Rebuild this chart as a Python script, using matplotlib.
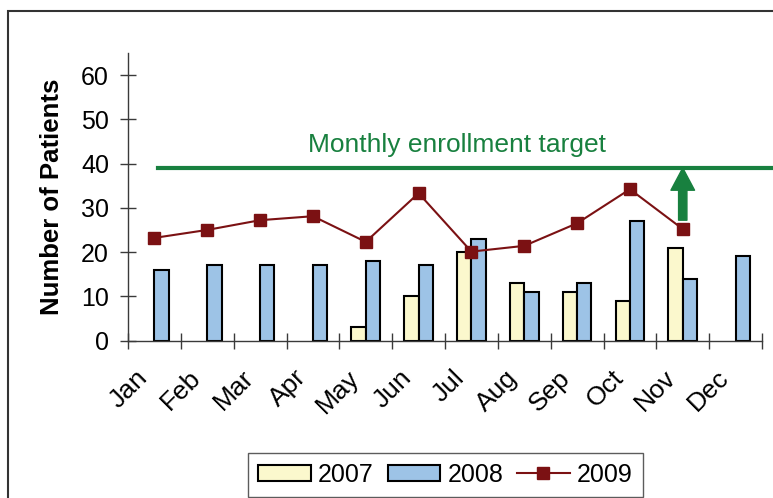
import numpy as np
import matplotlib
matplotlib.use("Agg")
import matplotlib.pyplot as plt
from matplotlib.patches import Rectangle
from matplotlib.transforms import ScaledTranslation

plt.rcParams['font.family'] = ['Liberation Sans', 'DejaVu Sans']

months = ["Jan", "Feb", "Mar", "Apr", "May", "Jun",
          "Jul", "Aug", "Sep", "Oct", "Nov", "Dec"]
y2007 = [np.nan, np.nan, np.nan, np.nan, 3, 10, 20, 13, 11, 9, 21, np.nan]
y2008 = [16, 17, 17, 17, 18, 17, 23, 11, 13, 27, 14, 19]
y2009 = [23.2, 25, 27.2, 28.1, 22.3, 33.3, 20.1, 21.4, 26.5, 34.2, 25.2, np.nan]
target = 39
target_label = "Monthly enrollment target"

col07 = '#FBF8CD'
col08 = '#9DC3E6'
col09 = '#7B1113'
green = '#18803F'
axcol = '#3A3A3A'

fig = plt.figure(figsize=(7.73, 4.98), dpi=100)
ax = fig.add_axes([128 / 773, 1 - 340.5 / 498, 634 / 773, 287.5 / 498])

x = np.arange(len(months)) + 0.5
w = 0.27
b07 = ax.bar(x - w / 2, y2007, width=w, color=col07, edgecolor='black', lw=1.5, label='2007', zorder=2)
b08 = ax.bar(x + w / 2, y2008, width=w, color=col08, edgecolor='black', lw=1.5, label='2008', zorder=2)
l09, = ax.plot(x, y2009, color=col09, lw=1.5, marker='s', ms=8, label='2009', zorder=4)

# target line + label + arrow
ax.plot([0.57, 12.3], [target, target], color=green, lw=3, clip_on=False, zorder=3)
ax.text(3.4, 42.6, target_label, color=green, fontsize=19, va='baseline', ha='left')
ax.annotate('', xy=(x[10], target), xytext=(x[10], y2009[10] + 2),
            arrowprops=dict(arrowstyle='simple,head_length=0.8,head_width=0.85,tail_width=0.3',
                            color=green, mutation_scale=20, shrinkA=0, shrinkB=0), zorder=5)

ax.set_xlim(0, 12)
ax.set_ylim(0, 65)
ax.set_yticks(range(0, 61, 10))
ax.set_xticks(np.arange(0, 13))
ax.set_xticklabels([])
ax.set_xticks(x, minor=True)
ax.set_xticklabels(months, minor=True, rotation=45, ha='right')
ax.tick_params(axis='x', which='minor', length=0, pad=18, labelsize=19)
ax.tick_params(axis='x', which='major', direction='inout', length=11.5, width=1, color=axcol)
ax.tick_params(axis='y', direction='inout', length=11.5, width=1, color=axcol, pad=8, labelsize=18)
shift = ScaledTranslation(-2 / 100, 0, fig.dpi_scale_trans)
for lab in ax.get_xticklabels(minor=True):
    lab.set_transform(lab.get_transform() + shift)

for s in ['top', 'right']:
    ax.spines[s].set_visible(False)
for s in ['left', 'bottom']:
    ax.spines[s].set_color(axcol)
    ax.spines[s].set_linewidth(1)

ax.set_ylabel("Number of Patients", fontsize=18.5, fontweight='bold', labelpad=12)

leg = fig.legend([b07, b08, l09], ['2007', '2008', '2009'],
                 loc='lower center', bbox_to_anchor=(445.5 / 773, 1.5 / 498), ncol=3,
                 fontsize=18, frameon=True, fancybox=False, borderaxespad=0,
                 handlelength=2.1, handleheight=0.6, handletextpad=0.3, columnspacing=0.55,
                 borderpad=0.4)
leg.get_frame().set_edgecolor('#333333')
leg.get_frame().set_linewidth(1)

fig.patches.append(Rectangle((8 / 773, -0.1), 1.2, 1 - 11 / 498 + 0.1, transform=fig.transFigure,
                             fill=False, ec='#333333', lw=1.5))

fig.savefig('out.png', dpi=100)
